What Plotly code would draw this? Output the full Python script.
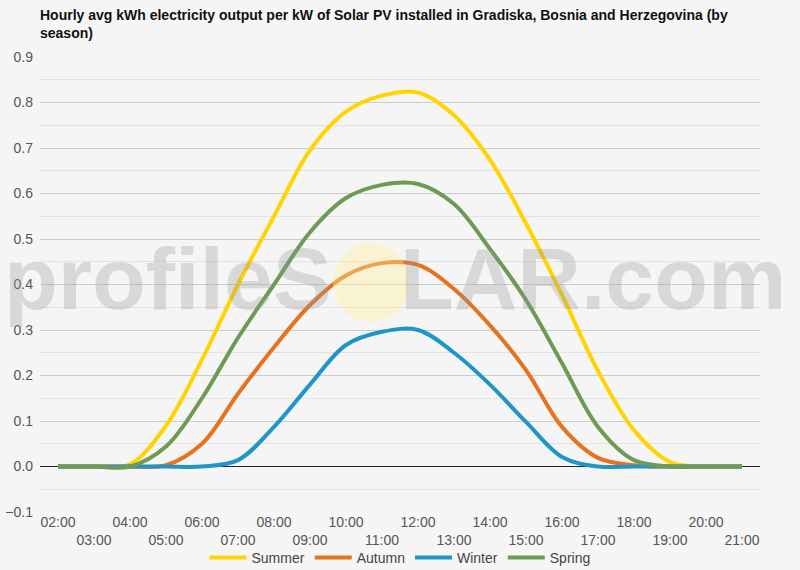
import plotly.graph_objects as go

hours = ["02:00", "03:00", "04:00", "05:00", "06:00", "07:00", "08:00", "09:00", "10:00", "11:00",
         "12:00", "13:00", "14:00", "15:00", "16:00", "17:00", "18:00", "19:00", "20:00", "21:00"]

summer = [0, 0, 0.005, 0.09, 0.235, 0.40, 0.55, 0.695, 0.78, 0.815,
          0.822, 0.772, 0.674, 0.534, 0.377, 0.21, 0.08, 0.01, 0, 0]
autumn = [0, 0, 0, 0.003, 0.05, 0.16, 0.262, 0.355, 0.42, 0.447,
          0.443, 0.39, 0.31, 0.212, 0.087, 0.019, 0.003, 0, 0, 0]
winter = [0, 0, 0, 0, 0.0, 0.014, 0.087, 0.18, 0.267, 0.296,
          0.30, 0.25, 0.18, 0.098, 0.021, 0, 0, 0, 0, 0]
spring = [0, 0, 0, 0.044, 0.15, 0.283, 0.40, 0.515, 0.59, 0.619,
          0.621, 0.577, 0.478, 0.366, 0.227, 0.087, 0.014, 0, 0, 0]

series = [("Summer", summer, "#FFD400"),
          ("Autumn", autumn, "#E6731F"),
          ("Winter", winter, "#1F95C8"),
          ("Spring", spring, "#6E9A53")]

W, H = 800, 570
L, R, T, B = 40, 40, 57, 58

fig = go.Figure()
for name, vals, col in series:
    fig.add_trace(go.Scatter(x=hours, y=vals, name=name, mode="lines",
                             line=dict(color=col, width=4, shape="spline", smoothing=1.0)))

# staggered tick labels: odd hours go on a second row
ticktext = [h if i % 2 == 0 else "<br>" + h for i, h in enumerate(hours)]

fig.update_layout(
    width=W, height=H,
    paper_bgcolor="#f5f5f5", plot_bgcolor="#f5f5f5",
    font=dict(family="Liberation Sans, Arial, sans-serif", size=14, color="#555"),
    title=dict(text="<b>Hourly avg kWh electricity output per kW of Solar PV installed in Gradiska, Bosnia and Herzegovina (by<br>season)</b>",
               x=0, xref="paper", y=1 - 20 / H, yref="container", xanchor="left", yanchor="top",
               font=dict(size=14, color="#111")),
    margin=dict(l=L, r=R, t=T, b=B, autoexpand=False),
    showlegend=True,
    legend=dict(orientation="h", x=0.5, xanchor="center", y=-46 / 455, yanchor="middle",
                font=dict(size=14, color="#444"), itemwidth=37, bgcolor="rgba(0,0,0,0)"),
    xaxis=dict(type="category", tickvals=hours, ticktext=ticktext, showgrid=False,
               ticks="", tickangle=0, tickfont=dict(size=14, color="#555"), range=[-0.5, 19.5],
               showline=False, zeroline=False),
    yaxis=dict(range=[-0.1, 0.9], dtick=0.1, tickformat=".1f", gridcolor="#cccccc",
               zeroline=True, zerolinecolor="#222", zerolinewidth=1,
               tickfont=dict(size=14, color="#555"), ticklabelstandoff=6,
               minor=dict(dtick=0.05, showgrid=True, gridcolor="#e2e2e2")),
)

# watermark (page pixels converted to paper coords)
def px_x(p):
    return (p - L) / (W - L - R)

def px_y(p):
    return (H - B - p) / (H - T - B)

fig.add_shape(type="circle", xref="paper", yref="paper", layer="above",
              x0=px_x(333), x1=px_x(409), y0=px_y(322), y1=px_y(243),
              fillcolor="rgba(255,238,150,0.38)", line=dict(width=0))
fig.add_annotation(text="<b>profileS<span style='color:rgba(0,0,0,0)'>O</span>LAR.com</b>",
                   xref="paper", yref="paper", x=px_x(395), y=px_y(278),
                   showarrow=False, font=dict(size=88, color="rgba(150,150,150,0.3)",
                                              family="Liberation Sans, Arial, sans-serif"))

fig.write_html("out.html", config={"displayModeBar": False},
               post_script="document.body.style.margin='0';document.body.style.background='#f5f5f5';")
